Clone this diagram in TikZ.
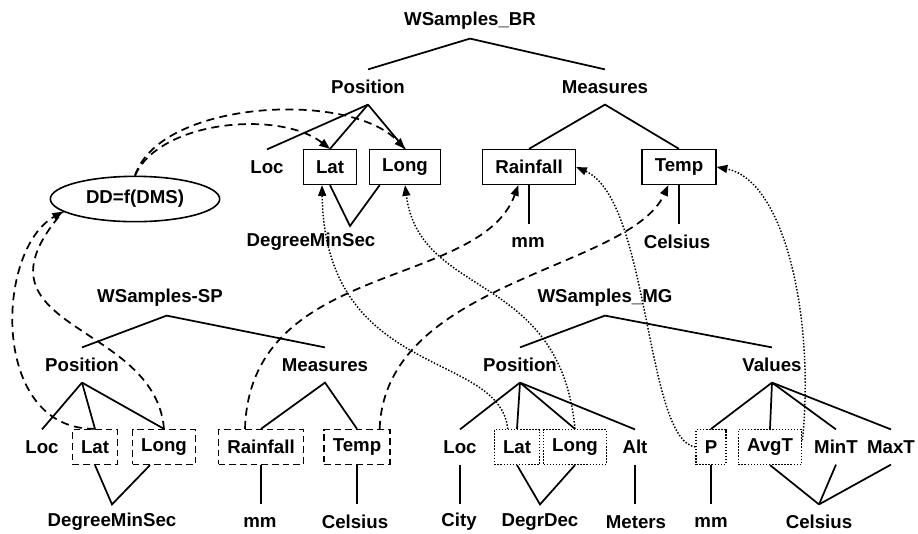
\documentclass[tikz,border=0pt]{standalone}
\usepackage{fontspec}
\setmainfont{Liberation Sans}
\usetikzlibrary{arrows.meta,shapes.geometric}

\begin{document}
\begin{tikzpicture}[
  x=0.75pt, y=-0.75pt,
  every node/.style={font=\bfseries\fontsize{14}{16}\selectfont},
  lbl/.style={minimum height=26pt, inner xsep=1pt, inner ysep=0pt},
  attr/.style={lbl, draw, line width=1.2pt, inner xsep=9.5pt},
  attrsp/.style={lbl, draw, line width=1.2pt, dash pattern=on 5pt off 3pt, inner xsep=6.5pt},
  attrmg/.style={lbl, draw, line width=1.1pt, dash pattern=on 1.1pt off 1.2pt, inner xsep=6.5pt},
  edge/.style={line width=1.3pt},
  dashline/.style={line width=1.3pt, dash pattern=on 6pt off 4pt},
  dasharr/.style={dashline, -{Triangle[length=8pt,width=6pt]}},
  dotarr/.style={line width=1.1pt, dash pattern=on 1.1pt off 1.3pt, -{Triangle[length=8pt,width=6pt]}}
]
  \fill[white] (0,0) rectangle (918,533);
  \useasboundingbox (0,0) rectangle (918,533);

  % WSamples_BR
  \node[lbl] (brroot) at (470,21)  {WSamples\_BR};
  \node[lbl] (brpos)  at (368,87)  {Position};
  \node[lbl] (brmeas) at (605,87)  {Measures};
  \node[lbl] (brloc)  at (267,167) {Loc};
  \node[attr] (brlat)  at (330,167) {Lat};
  \node[attr] (brlong) at (405,167) {Long};
  \node[attr] (brrain) at (529,167) {Rainfall};
  \node[attr] (brtemp) at (679,167) {Temp};
  \node[lbl] (brdms) at (311,242) {DegreeMinSec};
  \coordinate (brdmsv) at (350,226);
  \node[lbl] (brmm)  at (528,242) {mm};
  \node[lbl] (brcel) at (677,242) {Celsius};

  \draw[edge] (brpos.north) -- (brroot.south) -- (brmeas.north);
  \foreach \c in {brloc,brlat,brlong}
    \draw[edge] (brpos.south) -- (\c.north);
  \draw[edge] (brrain.north) -- (brmeas.south) -- (brtemp.north);
  \draw[edge] (brlat.south) -- (brdmsv) -- ([xshift=-19pt]brlong.south);
  \draw[edge] (brrain.south) -- (brrain.south |- brmm.north);
  \draw[edge] (brtemp.south) -- (brtemp.south |- brcel.north);

  % WSamples-SP
  \node[lbl] (sproot) at (160,298) {WSamples-SP};
  \node[lbl] (sppos)  at (82,365)  {Position};
  \node[lbl] (spmeas) at (325,365) {Measures};
  \node[lbl] (sploc)  at (42,447)  {Loc};
  \node[attrsp] (splat)  at (95,447)  {Lat};
  \node[attrsp] (splong) at (164,447) {Long};
  \node[attrsp] (sprain) at (261,447) {Rainfall};
  \node[attrsp] (sptemp) at (357,447) {Temp};
  \node[lbl] (spdms) at (112,522) {DegreeMinSec};
  \node[lbl] (spmm)  at (260,522) {mm};
  \node[lbl] (spcel) at (355,522) {Celsius};

  \draw[edge] (sppos.north) -- ([xshift=5pt]sproot.south) -- (spmeas.north);
  \foreach \c in {sploc,splat,splong}
    \draw[edge] (sppos.south) -- (\c.north);
  \draw[edge] (sprain.north) -- (spmeas.south) -- (sptemp.north);
  \draw[edge] (splat.south) -- (spdms.north) -- ([xshift=-10.5pt]splong.south);
  \draw[edge] (sprain.south) -- (sprain.south |- spmm.north);
  \draw[edge] (sptemp.south) -- (sptemp.south |- spcel.north);

  % WSamples_MG
  \node[lbl] (mgroot) at (605,298) {WSamples\_MG};
  \node[lbl] (mgpos)  at (520,365) {Position};
  \node[lbl] (mgval)  at (772,365) {Values};
  \node[lbl] (mgloc)  at (460,447) {Loc};
  \node[attrmg] (mglat)  at (517,447) {Lat};
  \node[attrmg] (mglong) at (575,447) {Long};
  \node[lbl] (mgalt)  at (635,447) {Alt};
  \node[attrmg] (mgp)    at (711,447) {P};
  \node[attrmg] (mgavg)  at (770,447) {AvgT};
  \node[lbl] (mgmin)  at (836,447) {MinT};
  \node[lbl] (mgmax)  at (891,447) {MaxT};
  \node[lbl] (mgcity) at (459,522) {City};
  \node[lbl] (mgdd)   at (540,522) {DegrDec};
  \node[lbl] (mgmet)  at (636,522) {Meters};
  \node[lbl] (mgmm)   at (711,522) {mm};
  \node[lbl] (mgcel)  at (819,522) {Celsius};

  \draw[edge] (mgpos.north) -- (mgroot.south) -- (mgval.north);
  \foreach \c in {mgloc,mglat,mglong,mgalt}
    \draw[edge] (mgpos.south) -- (\c.north);
  \foreach \c in {mgp,mgavg,mgmin,mgmax}
    \draw[edge] (mgval.south) -- (\c.north);
  \draw[edge] (mgloc.south) -- (mgloc.south |- mgcity.north);
  \draw[edge] (mglat.south) -- (mgdd.north) -- (mglong.south);
  \draw[edge] (mgalt.south) -- (mgalt.south |- mgmet.north);
  \draw[edge] (mgp.south) -- (mgp.south |- mgmm.north);
  \foreach \c in {mgavg,mgmin,mgmax}
    \draw[edge] (\c.south) -- (mgcel.north);

  % conversion function
  \node[draw, ellipse, line width=1.2pt, minimum width=127pt, minimum height=34pt,
        inner sep=0pt] (conv) at (135,199) {DD=f(DMS)};

  % mappings
  \draw[dasharr] (conv.north) .. controls (160,120) and (280,110) .. (brlat.north);
  \draw[dasharr] (conv.north) .. controls (160,100) and (350,90) .. (brlong.north);
  \draw[dasharr] (splat.north) .. controls (-10,430) and (-5,250) .. (conv.190);
  \draw[dashline] (splong.north) .. controls (155,320) and (-40,330) .. (conv.190);
  \draw[dasharr] ([xshift=-12pt]sprain.north) .. controls (250,260) and (480,290) .. ([xshift=-8pt]brrain.south);
  \draw[dasharr] ([xshift=17pt]sptemp.north) .. controls (385,280) and (630,270) .. ([xshift=-8pt]brtemp.south);
  \draw[dotarr] ([xshift=-7pt]mglat.north) .. controls (500,350) and (325,380) .. ([xshift=-6pt]brlat.south);
  \draw[dotarr] (mglong.north) .. controls (560,270) and (420,300) .. (brlong.south);
  \draw[dotarr] (mgp.west) .. controls (645,440) and (650,200) .. (brrain.east);
  \draw[dotarr] ([yshift=5pt]mgavg.east) .. controls (815,320) and (785,180) .. (brtemp.east);
\end{tikzpicture}
\end{document}
